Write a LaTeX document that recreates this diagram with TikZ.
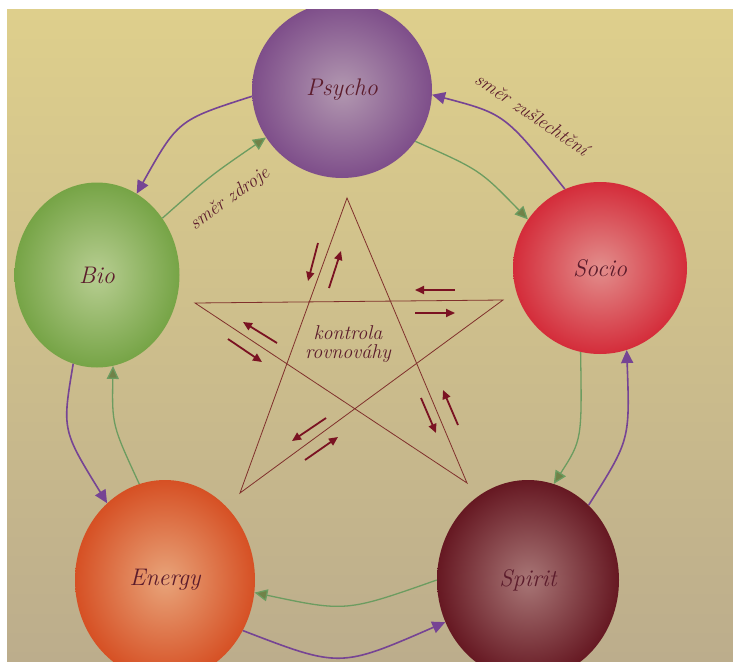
\documentclass[tikz,border=0pt]{standalone}
\usetikzlibrary{shapes.geometric, arrows.meta}
\definecolor{bgTop}{RGB}{222,207,140}
\definecolor{bgMid}{RGB}{228,222,176}
\definecolor{bgBot}{RGB}{188,173,140}
\definecolor{labelRed}{RGB}{92,28,44}
\definecolor{arrowPurple}{RGB}{118,68,148}
\definecolor{arrowGreen}{RGB}{108,156,96}
\definecolor{arrowOlive}{RGB}{112,130,72}
\definecolor{starRed}{RGB}{128,48,44}
\definecolor{tickRed}{RGB}{122,18,34}
\definecolor{psychoIn}{RGB}{178,152,176}
\definecolor{psychoOut}{RGB}{126,78,138}
\definecolor{bioIn}{RGB}{184,206,146}
\definecolor{bioOut}{RGB}{118,164,70}
\definecolor{socioIn}{RGB}{226,142,140}
\definecolor{socioOut}{RGB}{212,44,58}
\definecolor{spiritIn}{RGB}{168,118,118}
\definecolor{spiritOut}{RGB}{102,24,34}
\definecolor{energyIn}{RGB}{232,164,122}
\definecolor{energyOut}{RGB}{214,80,36}

\begin{document}
\begin{tikzpicture}[x=1pt, y=-1pt,
  ball/.style={ellipse, inner sep=0pt, text=labelRed, font=\fontsize{24}{24}\selectfont\itshape},
  outerarrow/.style={draw=arrowPurple, line width=1.6pt, -{Triangle[length=13pt, width=12pt]}},
  innerarrow/.style={draw=arrowGreen, line width=1.3pt, -{Triangle[length=13pt, width=12pt, fill=arrowOlive]}},
  starline/.style={draw=starRed, line width=0.8pt},
  tick/.style={draw=tickRed, line width=1.8pt, -{Triangle[length=9pt, width=8pt]}},
  note/.style={text=labelRed, font=\fontsize{19}{19}\selectfont\itshape}]

  % page with the photo in it
  \useasboundingbox (0,0) rectangle (733,661);
  \fill[white] (0,0) rectangle (733,661);
  \shade[top color=bgTop, middle color=bgMid, bottom color=bgBot] (7,10) rectangle (733,661);

  \begin{scope}
  \clip (7,10) rectangle (733,661);

  % the five balls
  \node[ball, inner color=psychoIn, outer color=psychoOut, minimum width=180pt, minimum height=176pt] (psycho) at (342,90) {Psycho};
  \node[ball, inner color=bioIn, outer color=bioOut, minimum width=165pt, minimum height=185pt] (bio) at (97,275) {Bio};
  \node[ball, inner color=socioIn, outer color=socioOut, minimum width=174pt, minimum height=172pt] (socio) at (600,268) {Socio};
  \node[ball, inner color=spiritIn, outer color=spiritOut, minimum width=182pt, minimum height=200pt] (spirit) at (528,580) {Spirit};
  \node[ball, inner color=energyIn, outer color=energyOut, minimum width=180pt, minimum height=200pt] (energy) at (165,580) {Energy};

  % outer ring, purple
  \draw[outerarrow] (psycho.184) .. controls (178,120) .. (bio.64);
  \draw[outerarrow] (bio.255) .. controls (62,430) .. (energy.127);
  \draw[outerarrow] (energy.327) .. controls (340,668) .. (spirit.207);
  \draw[outerarrow] (spirit.51) .. controls (630,440) .. (socio.288);
  \draw[outerarrow] (socio.114) .. controls (505,114) .. (psycho.357);

  % inner ring, green
  \draw[innerarrow] (bio.41) .. controls (210,176) .. (psycho.212);
  \draw[innerarrow] (psycho.325) .. controls (480,170) .. (socio.146);
  \draw[innerarrow] (socio.257) .. controls (582,440) .. (spirit.75);
  \draw[innerarrow] (spirit.180) .. controls (346,612) .. (energy.352);
  \draw[innerarrow] (energy.105) .. controls (112,425) .. (bio.280);

  % ring labels
  \node[note, rotate=36] (zdroje) at (230,199) {směr zdroje};
  \node[note, rotate=-34] (zuslechteni) at (532,114) {směr zušlechtění};

  % star
  \coordinate (sTop) at (347,198);
  \coordinate (sLeft) at (195,303);
  \coordinate (sRight) at (503,300);
  \coordinate (sBotL) at (240,493);
  \coordinate (sBotR) at (467,483);
  \draw[starline] (sTop) -- (sBotL) -- (sRight) -- (sLeft) -- (sBotR) -- cycle;

  \node[note, align=center, font=\fontsize{20}{19}\selectfont\itshape] (kontrola) at (348,344) {kontrola\\rovnováhy};

  % little arrows along the star
  \draw[tick] (318,243) -- (308,281);
  \draw[tick] (329,288) -- (341,251);
  \draw[tick] (455,290) -- (415,290);
  \draw[tick] (415,313) -- (455,313);
  \draw[tick] (277,343) -- (243,322);
  \draw[tick] (228,339) -- (262,362);
  \draw[tick] (421,398) -- (436,433);
  \draw[tick] (458,425) -- (443,390);
  \draw[tick] (326,418) -- (292,441);
  \draw[tick] (305,460) -- (338,437);
  \end{scope}

\end{tikzpicture}
\end{document}
